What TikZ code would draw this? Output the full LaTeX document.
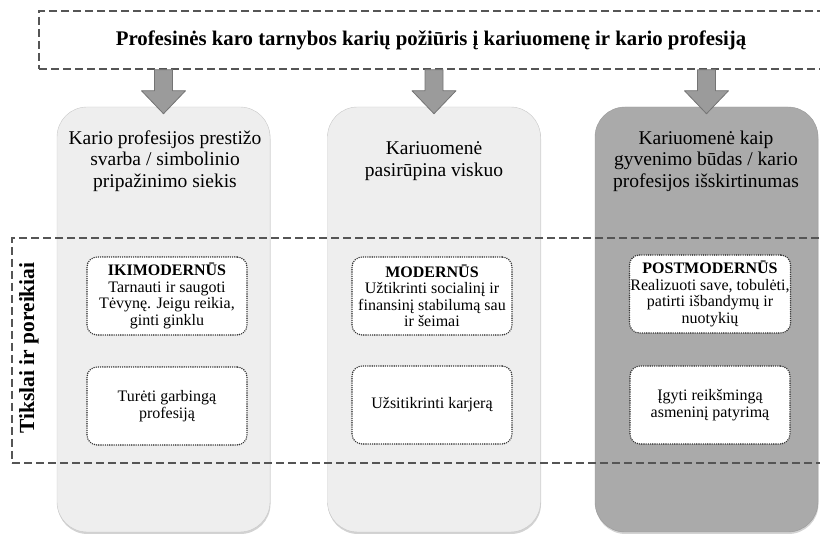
\documentclass[tikz,border=0pt]{standalone}
\usepackage{fontspec}
\setmainfont{Liberation Serif}
\usetikzlibrary{positioning, shadows}
\definecolor{colgray}{RGB}{238,238,238}
\definecolor{colline}{RGB}{200,200,200}
\definecolor{coldark}{RGB}{170,170,170}
\definecolor{arrowgray}{RGB}{155,155,155}
\definecolor{dashgray}{RGB}{85,85,85}

\begin{document}
\begin{tikzpicture}[x=1pt, y=-1pt,
    column/.style={draw=colline, fill=colgray, rounded corners=30pt, minimum width=213pt, minimum height=425pt,
      drop shadow={opacity=0.35, shadow xshift=0.5pt, shadow yshift=-2pt}},
    darkcolumn/.style={column, draw=coldark!90!black, fill=coldark, minimum width=223pt},
    headtxt/.style={align=center, font=\fontsize{19.5}{21.5}\selectfont},
    dashbox/.style={draw=dashgray, line width=1.5pt, dash pattern=on 8pt off 4pt},
    goalbox/.style={draw=black!80, fill=white, line width=1.6pt, line cap=round, dash pattern=on 0pt off 2.2pt,
      rounded corners=10pt, minimum width=160pt, minimum height=78pt, inner sep=1pt, align=center,
      font=\fontsize{16}{16.5}\selectfont},
    blockarrow/.style={draw=arrowgray!75!black, fill=arrowgray, line width=0.8pt, line join=round}]
  \useasboundingbox (0,0) rectangle (820,534);
  % three columns
  \node[column] (colA) at (163.5,319.5) {};
  \node[column] (colB) at (434,319.5) {};
  \node[darkcolumn] (colC) at (706.5,319.5) {};
  \node[headtxt] (headA) at (165,161) {Kario profesijos prestižo\\svarba / simbolinio\\pripažinimo siekis};
  \node[headtxt] (headB) at (434,161) {Kariuomenė\\pasirūpina viskuo};
  \node[headtxt] (headC) at (706,161) {Kariuomenė kaip\\gyvenimo būdas / kario\\profesijos išskirtinumas};
  % title box
  \node[dashbox, minimum width=784pt, minimum height=58pt, font=\bfseries\fontsize{20.8}{23}\selectfont]
    (title) at (431,40) {Profesinės karo tarnybos karių požiūris į kariuomenę ir kario profesiją};
  % arrows down to the columns
  \foreach \c in {colA,colB,colC} {
    \begin{scope}[shift={(title.south -| \c.north)}]
      \draw[blockarrow] (-9,0) -- (9,0) -- (9,21) -- (22,21) -- (0,44) -- (-22,21) -- (-9,21) -- cycle;
    \end{scope}
  }
  % goals band
  \node[dashbox, minimum width=813pt, minimum height=225pt] (goals) at (418.5,350.5) {};
  \node[rotate=90, font=\bfseries\fontsize{21.5}{23}\selectfont] (goalslbl) at (29,348) {Tikslai ir poreikiai};
  \node[goalbox] (goalA1) at (167,296) {\textbf{IKIMODERNŪS}\\Tarnauti ir saugoti\\Tėvynę. Jeigu reikia,\\ginti ginklu};
  \node[goalbox] (goalA2) at (167,406) {Turėti garbingą\\profesiją};
  \node[goalbox] (goalB1) at (432,296) {\textbf{MODERNŪS}\\Užtikrinti socialinį ir\\finansinį stabilumą sau\\ir šeimai};
  \node[goalbox] (goalB2) at (432,405) {Užsitikrinti karjerą};
  \node[goalbox] (goalC1) at (710,294) {\textbf{POSTMODERNŪS}\\Realizuoti save, tobulėti,\\patirti išbandymų ir\\nuotykių};
  \node[goalbox] (goalC2) at (710,405) {Įgyti reikšmingą\\asmeninį patyrimą};
\end{tikzpicture}
\end{document}
